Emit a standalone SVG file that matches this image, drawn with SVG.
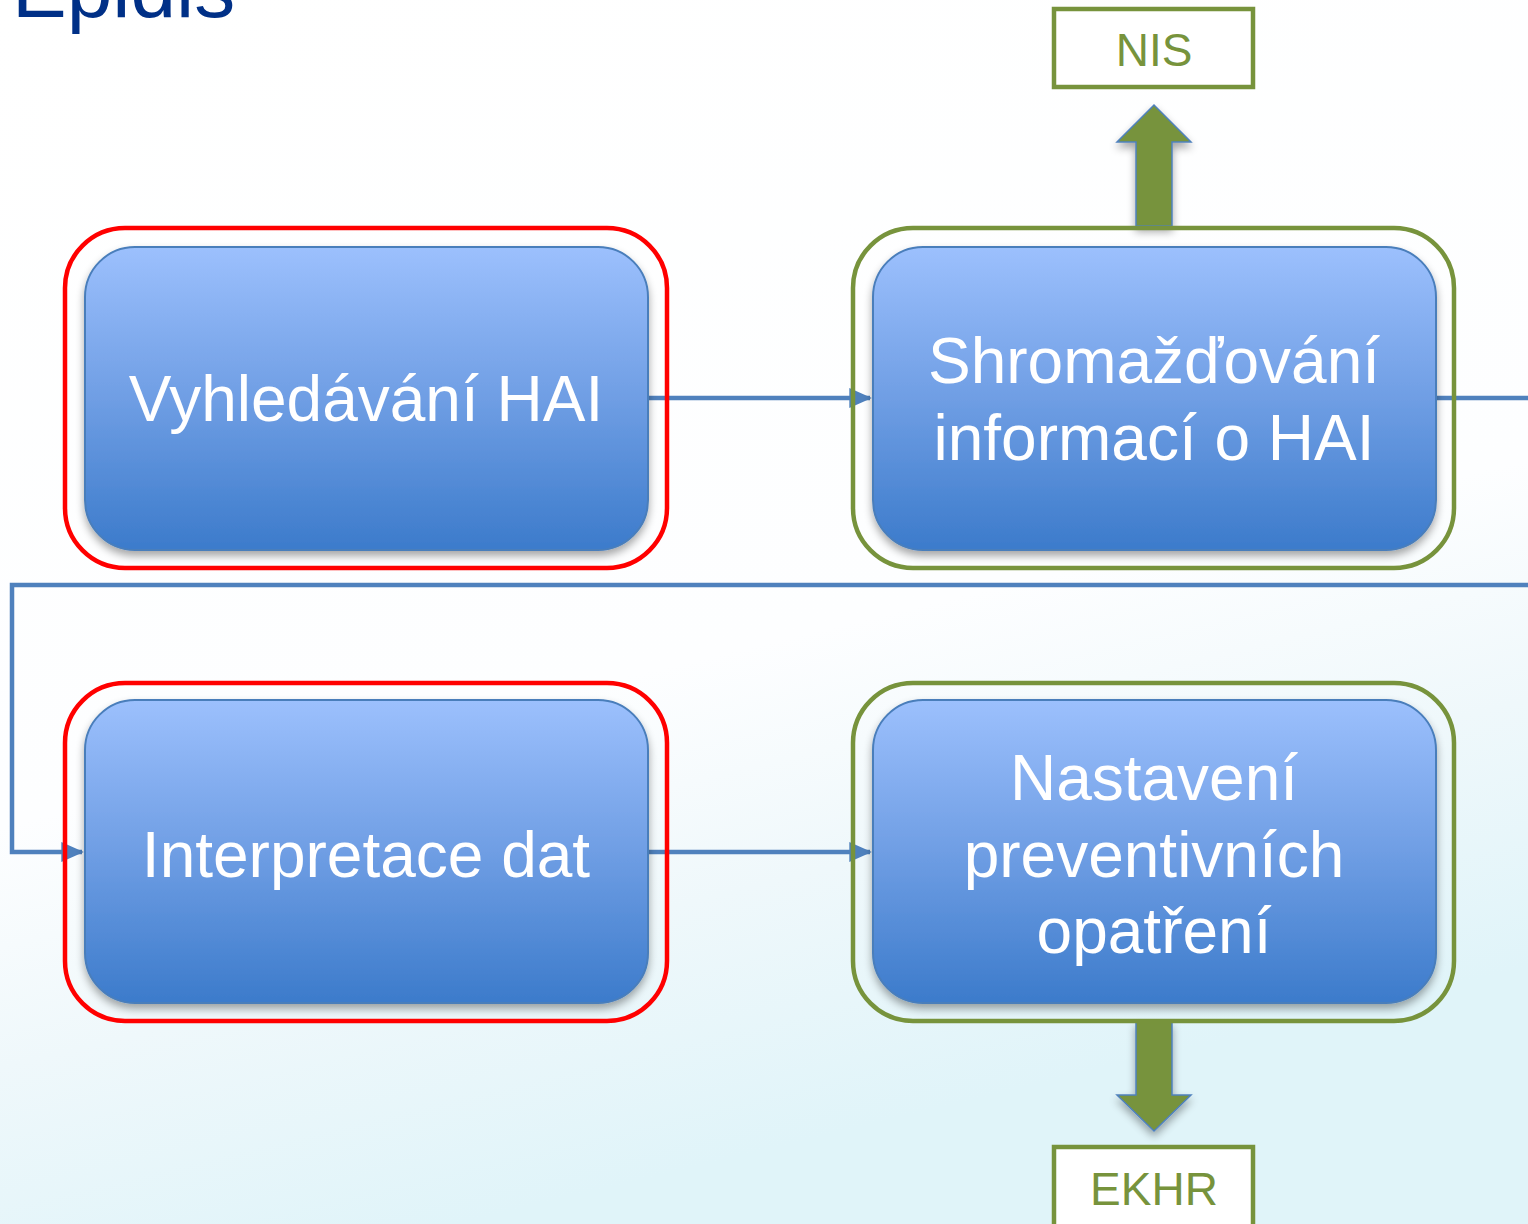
<svg xmlns="http://www.w3.org/2000/svg" width="1528" height="1224" viewBox="0 0 1528 1224">
<defs>
<linearGradient id="bg" x1="0" y1="0" x2="0.3" y2="1">
<stop offset="0" stop-color="#ffffff"/>
<stop offset="0.62" stop-color="#fdfeff"/>
<stop offset="0.8" stop-color="#eff8fb"/>
<stop offset="1" stop-color="#e0f4f9"/>
</linearGradient>
<linearGradient id="node" x1="0" y1="0" x2="0" y2="1">
<stop offset="0" stop-color="#9cc0fd"/>
<stop offset="0.5" stop-color="#6f9ee4"/>
<stop offset="1" stop-color="#3c7bcb"/>
</linearGradient>
<filter id="sh" x="-10%" y="-10%" width="120%" height="130%">
<feGaussianBlur in="SourceAlpha" stdDeviation="4"/>
<feOffset dx="0" dy="5" result="b"/>
<feComponentTransfer><feFuncA type="linear" slope="0.35"/></feComponentTransfer>
<feMerge><feMergeNode/><feMergeNode in="SourceGraphic"/></feMerge>
</filter>
<marker id="ah" markerWidth="5" markerHeight="4.4" refX="4.6" refY="2.2" orient="auto" markerUnits="strokeWidth">
<path d="M0,0 L5,2.2 L0,4.4 Z" fill="#4f81bd"/>
</marker>
</defs>
<style>
.node{fill:url(#node);stroke:#4a7ebb;stroke-width:2}
.lbl{font-family:"Liberation Sans",Arial,sans-serif;font-size:64px;fill:#ffffff;text-anchor:middle}
.red{fill:none;stroke:#ff0000;stroke-width:4.5}
.grn{fill:none;stroke:#77933c;stroke-width:4.5}
.box{fill:#ffffff;stroke:#77933c;stroke-width:4.5}
.boxt{font-family:"Liberation Sans",Arial,sans-serif;font-size:46px;fill:#77933c;text-anchor:middle}
.conn{fill:none;stroke:#4f81bd;stroke-width:4.5}
.big{fill:#77933c;stroke:#4f81bd;stroke-width:1.5}
</style>
<rect x="0" y="0" width="1528" height="1224" fill="url(#bg)"/>
<text x="12" y="17" font-family="Liberation Sans,Arial,sans-serif" font-size="82" fill="#003087">Epidis</text>

<g id="connectors">
<line class="conn" x1="648" y1="398" x2="870" y2="398" marker-end="url(#ah)"/>
<line class="conn" x1="1436" y1="398" x2="1530" y2="398"/>
<polyline class="conn" points="1530,585 12,585 12,852 82,852" marker-end="url(#ah)"/>
<line class="conn" x1="648" y1="852" x2="870" y2="852" marker-end="url(#ah)"/>
<path class="big" filter="url(#sh)" d="M1136,226 L1136,142 L1117,142 L1154,105 L1191,142 L1172,142 L1172,226 Z"/>
<path class="big" filter="url(#sh)" d="M1136,1022 L1136,1095 L1117,1095 L1154,1131 L1191,1095 L1172,1095 L1172,1022 Z"/>
</g>

<g id="n1">
<rect class="red" x="65" y="228" width="602" height="340" rx="60"/>
<rect class="node" filter="url(#sh)" x="85" y="247" width="563" height="303" rx="50"/>
<text class="lbl" x="366" y="421">Vyhledávání HAI</text>
</g>
<g id="n2">
<rect class="grn" x="853" y="228" width="601" height="340" rx="60"/>
<rect class="node" filter="url(#sh)" x="873" y="247" width="563" height="303" rx="50"/>
<text class="lbl" x="1154" y="383">Shromažďování</text>
<text class="lbl" x="1154" y="460">informací o HAI</text>
</g>
<g id="n3">
<rect class="red" x="65" y="683" width="602" height="338" rx="60"/>
<rect class="node" filter="url(#sh)" x="85" y="700" width="563" height="303" rx="50"/>
<text class="lbl" x="366" y="877">Interpretace dat</text>
</g>
<g id="n4">
<rect class="grn" x="853" y="683" width="601" height="338" rx="60"/>
<rect class="node" filter="url(#sh)" x="873" y="700" width="563" height="303" rx="50"/>
<text class="lbl" x="1154" y="800">Nastavení</text>
<text class="lbl" x="1154" y="877">preventivních</text>
<text class="lbl" x="1154" y="953">opatření</text>
</g>
<g id="nis">
<rect class="box" x="1054" y="9" width="199" height="78"/>
<text class="boxt" x="1154" y="66">NIS</text>
</g>
<g id="ekhr">
<rect class="box" x="1054" y="1147" width="199" height="82"/>
<text class="boxt" x="1154" y="1205">EKHR</text>
</g>
</svg>
